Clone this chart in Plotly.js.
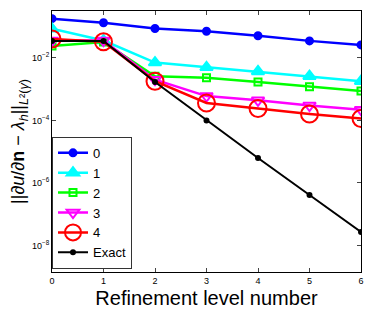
<!DOCTYPE html>
<html>
<head>
<meta charset="utf-8">
<script src="https://cdn.plot.ly/plotly-3.0.1.min.js"></script>
<style>html,body{margin:0;padding:0;background:#fff;}#chart{width:374px;height:314px;}</style>
</head>
<body>
<div id="chart"></div>
<script>
var levels = [0, 1, 2, 3, 4, 5, 6];
var names = ["0", "1", "2", "3", "4", "Exact"];
var err0 = [0.18, 0.133, 0.087, 0.071, 0.051, 0.035, 0.026];
var err1 = [0.085, 0.036, 0.0071, 0.0050, 0.0037, 0.0026, 0.0018];
var err2 = [0.024, 0.032, 0.0026, 0.0023, 0.0017, 0.0012, 0.00087];
var err3 = [0.036, 0.036, 0.0020, 0.00060, 0.00044, 0.00030, 0.00022];
var err4 = [0.040, 0.033, 0.0018, 0.00036, 0.00024, 0.00016, 0.000115];
var exact = [0.035, 0.035, 0.0017, 1.0e-4, 6.3e-6, 4.1e-7, 2.7e-8];
var yTickVals = [1e-8, 1e-6, 1e-4, 1e-2];
var yTickText = ["10<sup>−8</sup>", "10<sup>−6</sup>", "10<sup>−4</sup>", "10<sup>−2</sup>"];
var xTickVals = [0, 1, 2, 3, 4, 5, 6];

var series = [err0, err1, err2, err3, err4, exact];
var styles = [
  {color: "#0000ff", symbol: "circle", size: 7, fill: "#0000ff", lw: 2.5},
  {color: "#00ffff", symbol: "triangle-up", size: 11, fill: "#00ffff", lw: 2.5},
  {color: "#00ff00", symbol: "square-open", size: 7, fill: "#00ff00", lw: 2.5},
  {color: "#ff00ff", symbol: "triangle-down-open", size: 11, fill: "#ff00ff", lw: 2.5},
  {color: "#ff0000", symbol: "circle-open", size: 17, fill: "#ff0000", lw: 2.5},
  {color: "#000000", symbol: "circle", size: 4, fill: "#000000", lw: 2}
];
var traces = series.map(function (s, i) {
  var st = styles[i];
  return {
    x: levels, y: s, name: names[i], type: "scatter", mode: "lines+markers",
    line: {color: st.color, width: st.lw},
    marker: {symbol: st.symbol, size: st.size, color: st.fill, line: {color: st.color, width: 2}}
  };
});

var layout = {
  width: 374, height: 314,
  margin: {l: 52, r: 13, t: 11, b: 42},
  paper_bgcolor: "#fff", plot_bgcolor: "#fff",
  font: {family: "Liberation Sans, Arial, sans-serif", color: "#000"},
  showlegend: true,
  legend: {x: 0, y: 0.012, xanchor: "left", yanchor: "bottom", bgcolor: "#fff",
           bordercolor: "#333", borderwidth: 1, font: {size: 13}, tracegroupgap: 0, itemwidth: 30},
  xaxis: {range: [0, 6], tickvals: xTickVals, ticks: "inside", ticklen: 4, mirror: "ticks",
          showline: true, linecolor: "#000", linewidth: 1, showgrid: false, zeroline: false,
          tickfont: {size: 9}, title: {text: "Refinement level number", font: {size: 20}, standoff: 6}},
  yaxis: {type: "log", range: [-8.85, -0.5], tickvals: yTickVals, ticktext: yTickText,
          ticks: "inside", ticklen: 4, mirror: "ticks", showline: true, linecolor: "#000", linewidth: 1,
          showgrid: false, zeroline: false, tickfont: {size: 9},
          title: {text: "||<i>∂u</i>/<i>∂</i><b>n</b> − <i>λ<sub>h</sub></i>||<sub><i>L</i>²(<i>γ</i>)</sub>", font: {size: 18}, standoff: 2}}
};
Plotly.newPlot("chart", traces, layout, {displayModeBar: false, staticPlot: true});
</script>
</body>
</html>
